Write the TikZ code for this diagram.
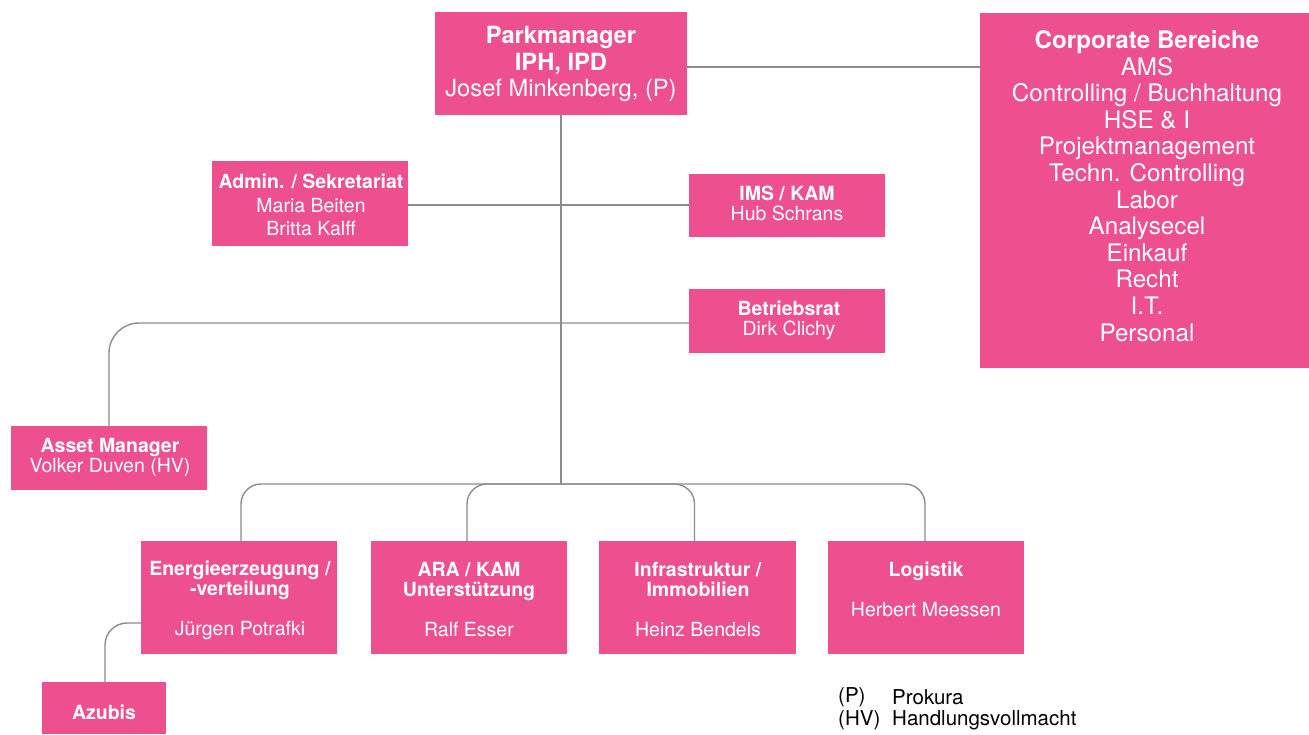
\documentclass[tikz,border=0pt]{standalone}
\usepackage{fontspec}
\setmainfont{TeX Gyre Heros}
\definecolor{orgpink}{RGB}{238,80,143}
\definecolor{conn}{RGB}{140,140,140}
\tikzset{
  box/.style={fill=orgpink, draw=none, inner sep=0pt, outer sep=0pt},
  txt/.style={text=white, align=center, inner sep=0pt},
  big/.style={font=\fontsize{23.7}{26.5}\selectfont},
  corpfont/.style={font=\fontsize{24.2}{26.6}\selectfont},
  mid/.style={font=\fontsize{19.5}{20}\selectfont},
  admfont/.style={font=\fontsize{19.5}{23.5}\selectfont},
  legfont/.style={font=\fontsize{20.5}{21}\selectfont, text=black, inner sep=0pt},
  link/.style={draw=conn, line width=1.4pt},
}
\begin{document}
\begin{tikzpicture}[x=1pt, y=-1pt]
\useasboundingbox (0,0) rectangle (1309,734);

% boxes
\node[box, minimum width=252, minimum height=103] (pm) at (561,63.5) {};
\node[box, minimum width=329, minimum height=355] (corp) at (1144.5,190.5) {};
\node[box, minimum width=196, minimum height=85] (admin) at (310,203.5) {};
\node[box, minimum width=196, minimum height=63] (ims) at (787,205.5) {};
\node[box, minimum width=196, minimum height=64] (br) at (787,321) {};
\node[box, minimum width=196, minimum height=64] (asset) at (109,458) {};
\node[box, minimum width=196, minimum height=113] (energ) at (239,597.5) {};
\node[box, minimum width=196, minimum height=113] (ara) at (469,597.5) {};
\node[box, minimum width=197, minimum height=113] (infra) at (697.5,597.5) {};
\node[box, minimum width=196, minimum height=113] (log) at (926,597.5) {};
\node[box, minimum width=124, minimum height=52] (azubis) at (104,708) {};

% connectors
\coordinate (bus) at (561,484);
\draw[link] (pm.south) -- (bus);
\draw[link] ([yshift=-3.5pt]pm.east) -- ([yshift=-3.5pt]pm.east -| corp.west);
\draw[link] ([yshift=-1.5pt]admin.east) -- ([yshift=-1.5pt]admin.east -| ims.west);
\draw[link, rounded corners=30pt] ([yshift=-2pt]br.west) -| (asset.north);
\draw[link, rounded corners=20pt] (bus) -| ([xshift=2pt]energ.north);
\draw[link, rounded corners=20pt] (bus) -| ([xshift=-2pt]ara.north);
\draw[link, rounded corners=20pt] (bus) -| ([xshift=-3pt]infra.north);
\draw[link, rounded corners=20pt] (bus) -| ([xshift=-1pt]log.north);
\draw[link, rounded corners=22pt] ([yshift=-25.5pt]energ.west) -| ([xshift=1pt]azubis.north);

% texts
\node[txt, big] (tpm) at (561,64) {\textbf{Parkmanager}\\\textbf{IPH, IPD}\\Josef Minkenberg, (P)};
\node[txt, corpfont] (tcorp) at (1147,186) {\textbf{Corporate Bereiche}\\AMS\\Controlling / Buchhaltung\\HSE \& I\\Projektmanagement\\Techn. Controlling\\Labor\\Analysecel\\Einkauf\\Recht\\I.T.\\Personal};
\node[txt, admfont] (tadmin) at (311,205) {\textbf{Admin. / Sekretariat}\\Maria Beiten\\Britta Kalff};
\node[txt, mid] (tims) at (787,203.5) {\textbf{IMS / KAM}\\Hub Schrans};
\node[txt, mid] (tbr) at (789,320.5) {\textbf{Betriebsrat}\\Dirk Clichy};
\node[txt, mid] (tasset) at (110,457.5) {\textbf{Asset Manager}\\Volker Duven (HV)};
\node[txt, mid] (tenerg) at (240,600.5) {\textbf{Energieerzeugung /}\\\textbf{-verteilung}\\[20pt]Jürgen Potrafki};
\node[txt, mid] (tara) at (469,599.5) {\textbf{ARA / KAM}\\\textbf{Unterstützung}\\[20pt]Ralf Esser};
\node[txt, mid] (tinfra) at (698,599.5) {\textbf{Infrastruktur /}\\\textbf{Immobilien}\\[20pt]Heinz Bendels};
\node[txt, mid] (tlog) at (926,589.5) {\textbf{Logistik}\\[20pt]Herbert Meessen};
\node[txt, mid] (tazubis) at (104,712) {\textbf{Azubis}};

% legend
\node[legfont, anchor=west] (lp) at (838,697.5) {(P)};
\node[legfont, anchor=west] (lpt) at (892,697.5) {Prokura};
\node[legfont, anchor=west] (lhv) at (838,720) {(HV)};
\node[legfont, anchor=west] (lhvt) at (892,720) {Handlungsvollmacht};
\end{tikzpicture}
\end{document}
